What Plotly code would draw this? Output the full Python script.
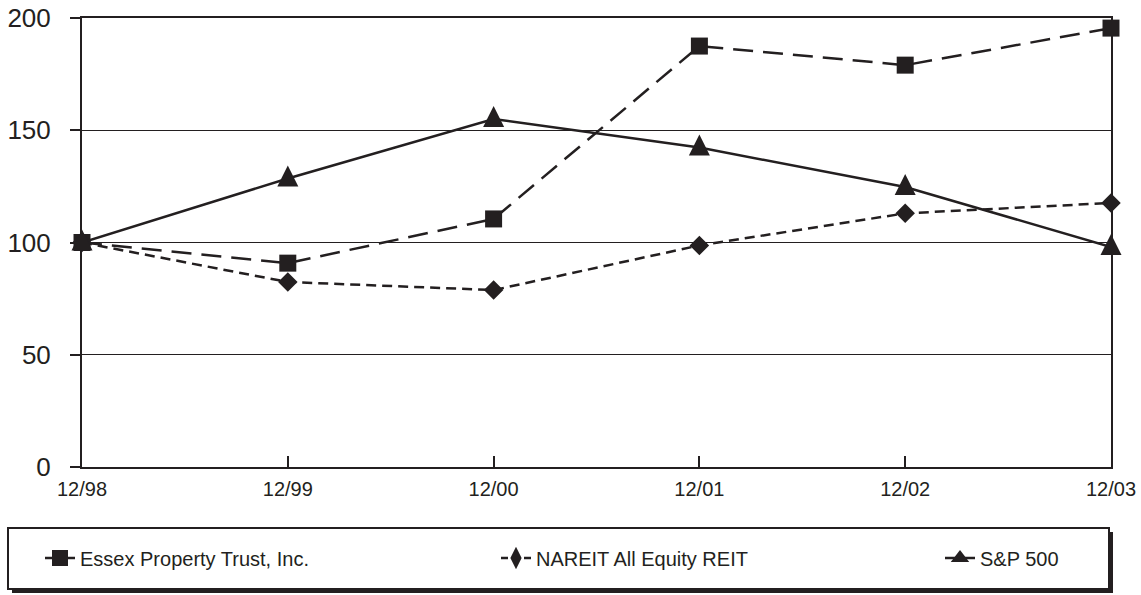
import plotly.graph_objects as go

periods = ["12/98", "12/99", "12/00", "12/01", "12/02", "12/03"]
essex = [100, 90.8, 110.5, 187.5, 179, 195.5]
nareit = [100, 82.4, 78.8, 98.7, 113, 117.6]
sp500 = [100, 128.5, 155, 142.3, 124.7, 98]
series_names = ["Essex Property Trust, Inc.", "NAREIT All Equity REIT", "S&P 500"]

INK = "#231f20"
FONT = "Liberation Sans, Arial, sans-serif"

W, H = 1141, 595
L, R, T, B = 82, 30, 18, 128
PW = W - L - R
PH = H - T - B


def px_x(p):
    return (p - L) / PW


def px_y(p):
    return (H - B - p) / PH


fig = go.Figure()
fig.add_trace(go.Scatter(
    x=periods, y=essex, name=series_names[0], mode="lines+markers",
    line=dict(color=INK, width=2.5, dash="20px,10px"),
    marker=dict(symbol="square", size=17, color=INK),
    cliponaxis=False, showlegend=False,
))
fig.add_trace(go.Scatter(
    x=periods, y=nareit, name=series_names[1], mode="lines+markers",
    line=dict(color=INK, width=2.5, dash="10px,6px"),
    marker=dict(symbol="diamond", size=15, color=INK),
    cliponaxis=False, showlegend=False,
))
fig.add_trace(go.Scatter(
    x=periods, y=sp500, name=series_names[2], mode="lines+markers",
    line=dict(color=INK, width=2.5),
    marker=dict(symbol="arrow-down", size=21, angle=180, standoff=13, color=INK),
    cliponaxis=False, showlegend=False,
))

# legend-only entries
leg_specs = [
    ("legend", "square", "7px,16px"),
    ("legend2", "diamond-tall", "7px,16px"),
    ("legend3", "triangle-up", "solid"),
]
for name, (lg, sym, dash) in zip(series_names, leg_specs):
    fig.add_trace(go.Scatter(
        x=[None], y=[None], name=name, mode="lines+markers",
        line=dict(color=INK, width=2.5, dash=dash),
        marker=dict(symbol=sym, size=16, color=INK),
        legend=lg, showlegend=True,
    ))

legend_common = dict(
    orientation="h", yanchor="middle", y=px_y(558), xanchor="left",
    bgcolor="rgba(0,0,0,0)", borderwidth=0,
    font=dict(family=FONT, size=20, color=INK),
)

fig.update_layout(
    width=W, height=H,
    margin=dict(l=L, r=R, t=T, b=B, pad=0, autoexpand=False),
    plot_bgcolor="white", paper_bgcolor="white",
    font=dict(family=FONT, color=INK),
    showlegend=True,
    legend=dict(x=px_x(40), **legend_common),
    legend2=dict(x=px_x(496), **legend_common),
    legend3=dict(x=px_x(940), **legend_common),
    xaxis=dict(
        type="category", range=[0, 5],
        showline=True, linewidth=2, linecolor=INK, mirror=True,
        ticks="inside", ticklen=11, tickwidth=2, tickcolor=INK,
        showgrid=False, zeroline=False,
        tickfont=dict(family=FONT, size=20, color=INK),
        ticklabelstandoff=3,
    ),
    yaxis=dict(
        range=[0, 200], dtick=50, tick0=0,
        showline=True, linewidth=2, linecolor=INK, mirror=True,
        ticks="outside", ticklen=10, tickwidth=2, tickcolor=INK,
        showgrid=True, gridcolor=INK, gridwidth=1, zeroline=False,
        tickfont=dict(family=FONT, size=26, color=INK),
        ticklabelstandoff=14,
    ),
    shapes=[
        dict(type="rect", xref="paper", yref="paper",
             x0=px_x(12), x1=px_x(1113), y0=px_y(532), y1=px_y(593),
             fillcolor=INK, line=dict(width=0), layer="above"),
        dict(type="rect", xref="paper", yref="paper",
             x0=px_x(8), x1=px_x(1109), y0=px_y(528), y1=px_y(589),
             fillcolor="white", line=dict(color=INK, width=2), layer="above"),
    ],
)

fig.write_html(
    "out.html",
    config={"displayModeBar": False},
    post_script="document.body.style.margin='0';document.body.style.overflow='hidden';",
)
